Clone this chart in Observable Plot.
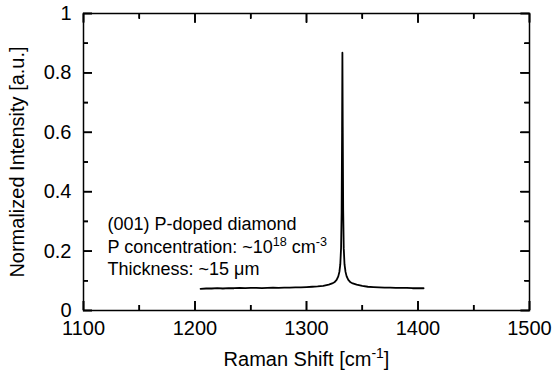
<!DOCTYPE html>
<html><head><meta charset="utf-8">
<script src="https://cdn.jsdelivr.net/npm/d3@7"></script>
<script src="https://cdn.jsdelivr.net/npm/@observablehq/plot@0.6"></script>
<style>body{margin:0;background:#fff} #chart svg{font-family:'Liberation Sans', Arial, Helvetica, sans-serif; font-size:20px; background:#fff}</style>
</head><body><div id="chart"></div>
<script>
const ramanShift = [1205,1210,1215,1220,1225,1230,1235,1240,1245,1250,1255,1260,1265,1270,1275,1280,1285,1290,1295,1300,1305,1310,1315,1320,1323,1325,1327,1328.5,1329.5,1330.3,1331,1331.5,1331.9,1332.2,1332.5,1332.9,1333.4,1334.1,1335,1336,1337.5,1339.5,1341.5,1345,1350,1355,1360,1365,1370,1375,1380,1385,1390,1395,1400,1405];
const intensity = [0.073,0.074,0.074,0.075,0.074,0.075,0.075,0.076,0.075,0.076,0.076,0.075,0.076,0.077,0.076,0.077,0.077,0.078,0.078,0.079,0.080,0.081,0.083,0.087,0.091,0.095,0.103,0.115,0.130,0.155,0.21,0.33,0.60,0.868,0.62,0.34,0.21,0.155,0.13,0.115,0.103,0.095,0.091,0.087,0.083,0.080,0.079,0.078,0.077,0.077,0.076,0.076,0.076,0.075,0.075,0.075];
const xMajorTicks = [1100,1200,1300,1400,1500];
const xMinorTicks = [1150,1250,1350,1450];
const yMajorTicks = [0,0.2,0.4,0.6,0.8,1];
const yMinorTicks = [0.1,0.3,0.5,0.7,0.9];
const xTitle = "Raman Shift [cm^{-1}]";
const yTitle = "Normalized Intensity [a.u.]";
const annotationLines = ["(001) P-doped diamond","P concentration: ~10^{18} cm^{-3}","Thickness: ~15 μm"];

const data = ramanShift.map((x, i) => ({x, y: intensity[i]}));
const W = 553, H = 377, ML = 83, MR = 24, MT = 13, MB = 67;
const FW = W - ML - MR, FH = H - MT - MB;
const MAJ = 9, MIN = 5;
const fmt = d => String(d);
const tw = 1.6;
const ax = (t, anchor, size) => (anchor === "top" || anchor === "bottom" ? Plot.axisX : Plot.axisY)(t, {anchor, tickSize: -size, stroke: "black", strokeWidth: tw, fill: "none", label: null});
const chart = Plot.plot({
  width: W, height: H,
  marginLeft: ML, marginRight: MR, marginTop: MT, marginBottom: MB,
  x: {domain: [1100, 1500]},
  y: {domain: [0, 1]},
  marks: [
    Plot.tickX(xMajorTicks, {stroke: "black", strokeWidth: tw, x: d => d, insetTop: FH - MAJ}),
    Plot.tickX(xMinorTicks, {stroke: "black", strokeWidth: tw, x: d => d, insetTop: FH - MIN}),
    Plot.tickX(xMajorTicks, {stroke: "black", strokeWidth: tw, x: d => d, insetBottom: FH - MAJ}),
    Plot.tickX(xMinorTicks, {stroke: "black", strokeWidth: tw, x: d => d, insetBottom: FH - MIN}),
    Plot.tickY(yMajorTicks, {stroke: "black", strokeWidth: tw, y: d => d, insetRight: FW - MAJ}),
    Plot.tickY(yMinorTicks, {stroke: "black", strokeWidth: tw, y: d => d, insetRight: FW - MIN}),
    Plot.tickY(yMajorTicks, {stroke: "black", strokeWidth: tw, y: d => d, insetLeft: FW - MAJ}),
    Plot.tickY(yMinorTicks, {stroke: "black", strokeWidth: tw, y: d => d, insetLeft: FW - MIN}),
    ax(xMajorTicks, "top", MAJ), ax(xMinorTicks, "top", MIN),
    ax(xMajorTicks, "bottom", MAJ), ax(xMinorTicks, "bottom", MIN),
    ax(yMajorTicks, "left", MAJ), ax(yMinorTicks, "left", MIN),
    ax(yMajorTicks, "right", MAJ), ax(yMinorTicks, "right", MIN),
    Plot.axisX(xMajorTicks, {anchor: "bottom", tickSize: 0, tickPadding: 10, tickFormat: fmt, label: xTitle, labelAnchor: "center", labelOffset: 55, labelArrow: "none"}),
    Plot.axisY(yMajorTicks, {anchor: "left", tickSize: 0, tickPadding: 12, tickFormat: fmt, label: yTitle, labelAnchor: "center", labelOffset: 74, labelArrow: "none"}),
    Plot.frame({stroke: "black", strokeWidth: 1.5}),
    Plot.line(data, {x: "x", y: "y", stroke: "black", strokeWidth: 1.8}),
    Plot.text([annotationLines.join("\n")], {frameAnchor: "top-left", dx: 24, dy: 201, lineAnchor: "top", textAnchor: "start", lineHeight: 1.25, fontSize: 18})
  ]
});
document.getElementById("chart").appendChild(chart);

function applySuperscripts(root) {
  root.querySelectorAll("text, tspan").forEach(el => {
    if (el.children.length) return;
    let s = el.textContent;
    if (/[\u2190-\u2193]/.test(s)) { s = s.replace(/\s*[\u2190-\u2193]\s*/g, ""); el.textContent = s; }
    if (!s.includes("^{")) return;
    el.textContent = "";
    const re = /\^\{([^}]*)\}/g;
    let last = 0, m;
    while ((m = re.exec(s))) {
      if (m.index > last) el.appendChild(document.createTextNode(s.slice(last, m.index)));
      const t = document.createElementNS("http://www.w3.org/2000/svg", "tspan");
      t.setAttribute("baseline-shift", "super");
      t.setAttribute("font-size", "70%");
      t.textContent = m[1];
      el.appendChild(t);
      last = re.lastIndex;
    }
    if (last < s.length) el.appendChild(document.createTextNode(s.slice(last)));
  });
}
applySuperscripts(chart);
</script>
</body></html>
